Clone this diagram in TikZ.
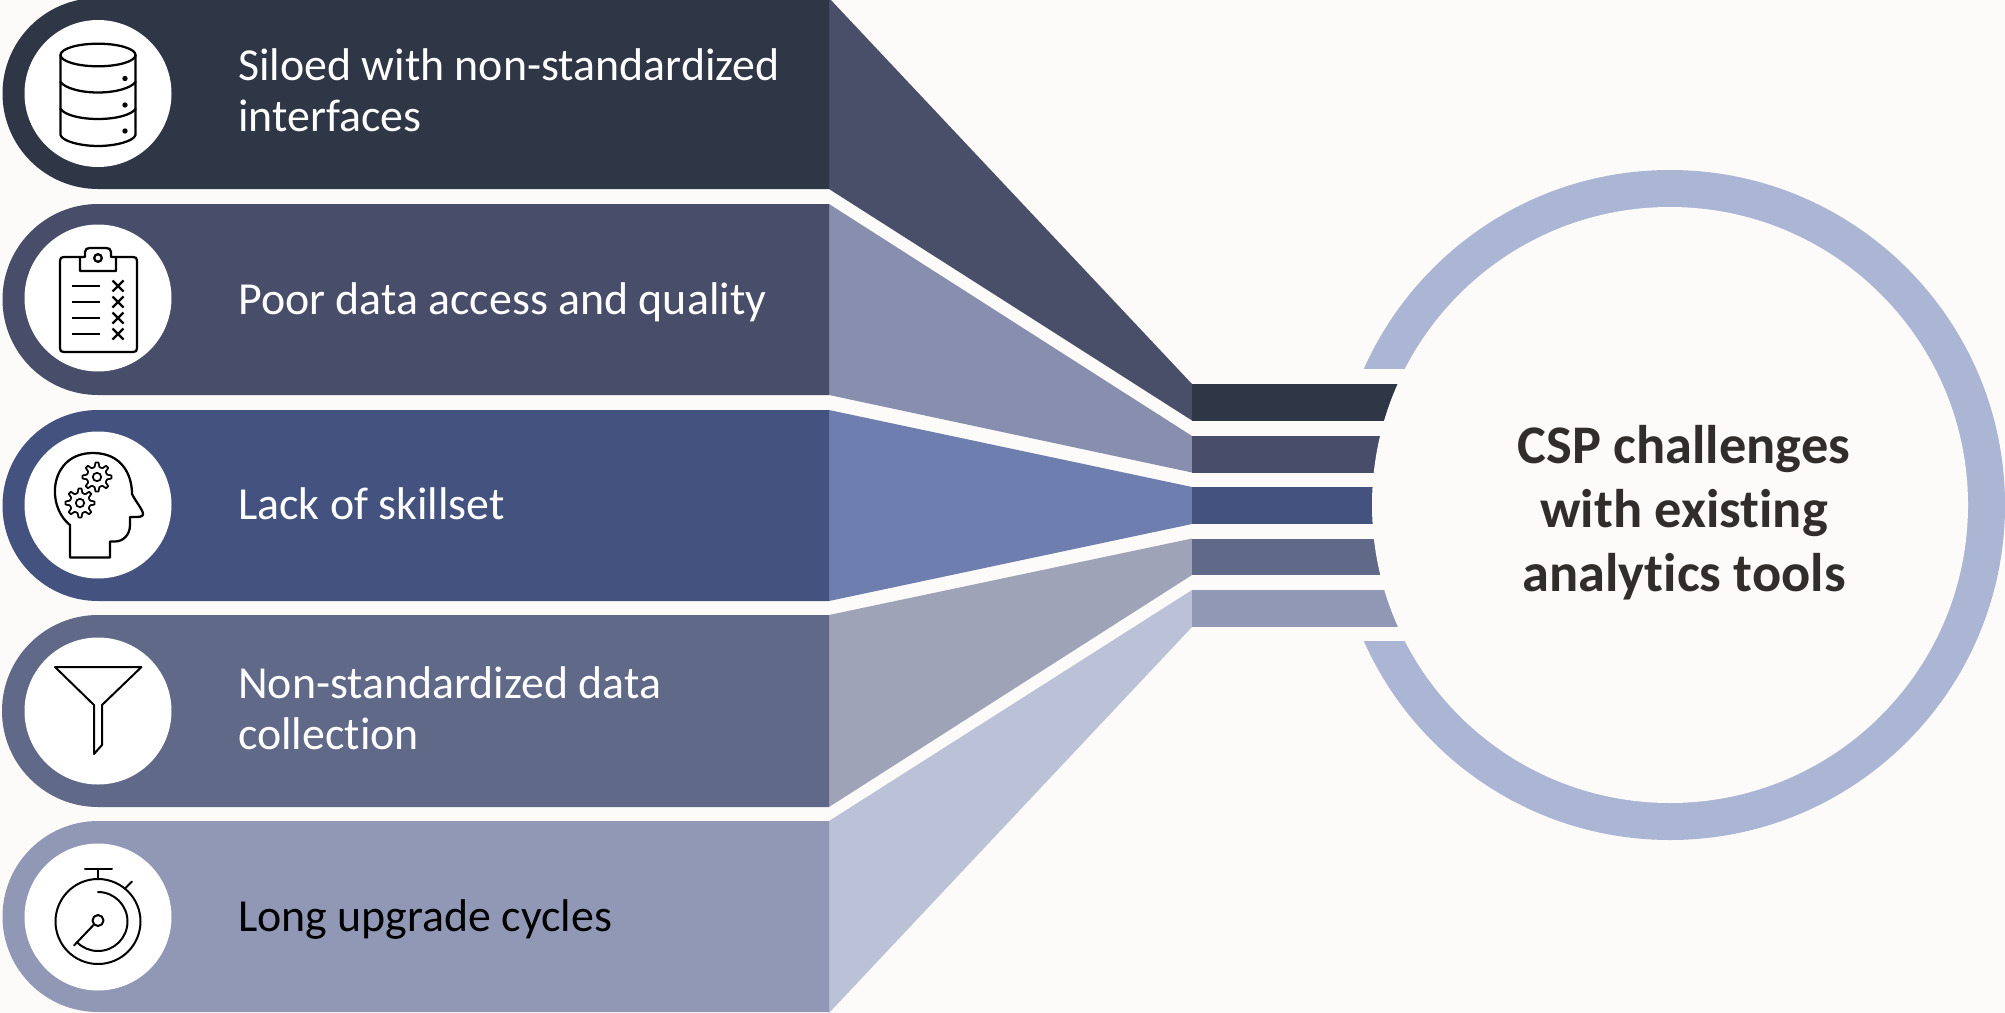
\documentclass[tikz,border=0pt]{standalone}
\usepackage{fontspec}
\setmainfont[Ligatures=NoCommon]{Carlito}
\definecolor{bgc}{HTML}{FCFBF9}
\definecolor{rowa}{HTML}{2F3645}
\definecolor{rowb}{HTML}{484D69}
\definecolor{rowc}{HTML}{44527F}
\definecolor{rowd}{HTML}{606987}
\definecolor{rowe}{HTML}{9098B6}
\definecolor{trapa}{HTML}{4A4F69}
\definecolor{trapb}{HTML}{888EAE}
\definecolor{trapc}{HTML}{6E7EAF}
\definecolor{trapd}{HTML}{9EA3B8}
\definecolor{trape}{HTML}{BBC1D7}
\definecolor{ringc}{HTML}{ABB5D4}
\definecolor{titlec}{HTML}{302D2B}
\tikzset{
  rowlabel/.style={anchor=west,align=left,font=\fontsize{34.4}{38.5}\selectfont,text=white,inner sep=0pt},
  icon/.style={draw=black,line width=1.7pt,line join=round,line cap=round,fill=none},
  iconthin/.style={draw=black,line width=1.5pt,line join=round,line cap=round,fill=none},
  disc/.style={fill=white,draw=none},
  gearicon/.pic={
    \draw[icon,line width=1.3pt] (0,0) circle (4.2);
    \draw[icon,line width=1.3pt] (-13:10.5)
      \foreach \a in {0,45,...,315}{
        -- ({\a-6}:14.5) -- ({\a+6}:14.5) -- ({\a+13}:10.5) -- ({\a+22.5}:10) -- ({\a+32}:10.5)
      } -- cycle;
  }
}
\begin{document}
\begin{tikzpicture}[x=0.75pt,y=-0.75pt]
\useasboundingbox (0,0) rectangle (2005,1013);
\fill[bgc] (0,0) rectangle (2005,1013);
\begin{scope}
\clip (0,0) rectangle (2005,1013);
% ring
\fill[ringc,even odd rule] (1670,505) circle[radius=335] (1670,505) circle[radius=297];
\fill[bgc] (1300,369) rectangle (1500,641);
% trapezoids
\fill[trapa] (829,-2) -- (1192,384) -- (1192,420.5) -- (829,189) -- cycle;
\fill[trapb] (829,204) -- (1192,436) -- (1192,472.5) -- (829,395) -- cycle;
\fill[trapc] (829,410) -- (1192,487) -- (1192,524) -- (829,601) -- cycle;
\fill[trapd] (829,615) -- (1192,538.5) -- (1192,575) -- (829,807) -- cycle;
\fill[trape] (829,821) -- (1192,590) -- (1192,627) -- (829,1013) -- cycle;
% collector bars
\fill[rowa] (1192,384) rectangle (1450,420.5);
\fill[rowb] (1192,436) rectangle (1450,472.5);
\fill[rowc] (1192,487) rectangle (1450,524);
\fill[rowd] (1192,538.5) rectangle (1450,575);
\fill[rowe] (1192,590) rectangle (1450,627);
\fill[bgc] (1670,505) circle[radius=298];
% rows
\fill[rowa] (829,-2) -- (98,-2) arc[start angle=270,end angle=90,radius=95.5] -- (829,189) -- cycle;
\fill[rowb] (829,204) -- (98,204) arc[start angle=270,end angle=90,radius=95.5] -- (829,395) -- cycle;
\fill[rowc] (829,410) -- (98,410) arc[start angle=270,end angle=90,radius=95.5] -- (829,601) -- cycle;
\fill[rowd] (829,615) -- (98,615) arc[start angle=270,end angle=90,radius=96] -- (829,807) -- cycle;
\fill[rowe] (829,821) -- (98,821) arc[start angle=270,end angle=90,radius=95.5] -- (829,1012) -- cycle;
\end{scope}
% discs
\fill[disc] (98,93.5) circle[radius=73.5];
\fill[disc] (98,298) circle[radius=73.5];
\fill[disc] (98,505) circle[radius=73.5];
\fill[disc] (98,711) circle[radius=73.5];
\fill[disc] (98,917) circle[radius=73.5];
% database icon
\draw[icon] (98,55) ellipse[x radius=37.5,y radius=11.3];
\draw[icon] (60.5,55) -- (60.5,135) .. controls (62,141) and (80,146) .. (98,146) .. controls (116,146) and (134,141) .. (135.5,135) -- (135.5,55);
\draw[icon] (60.5,82) .. controls (65,88) and (80,92.5) .. (98,92.5) .. controls (116,92.5) and (131,88) .. (135.5,82);
\draw[icon] (60.5,109) .. controls (65,115) and (80,119) .. (98,119) .. controls (116,119) and (131,115) .. (135.5,109);
\fill[black] (125,78.5) circle[radius=2.7] (125,105) circle[radius=2.7] (125,131) circle[radius=2.7];
% clipboard icon
\draw[icon] (80,257) -- (64,257) .. controls (61,257) and (60,258) .. (60,261) -- (60,348) .. controls (60,351) and (61,352) .. (64,352) -- (133,352) .. controls (136,352) and (137,351) .. (137,348) -- (137,261) .. controls (137,258) and (136,257) .. (133,257) -- (116,257);
\draw[icon] (80,257) -- (80,271) -- (116,271) -- (116,257) -- (111,257) -- (111,252) .. controls (111,249) and (109,248) .. (106,248) -- (90,248) .. controls (87,248) and (85,249) .. (85,252) -- (85,257) -- cycle;
\draw[icon] (98,258) circle[radius=3.8];
\foreach \yy in {286,302,318,334}{
  \draw[icon,line cap=butt] (72,\yy) -- (100,\yy);
  \draw[icon,line cap=butt] (112.5,\yy-5.5) -- (123.5,\yy+5.5) (123.5,\yy-5.5) -- (112.5,\yy+5.5);
}
% head icon
\draw[icon] (70,557.5) -- (70,525) .. controls (45,505) and (50,453) .. (93,453) .. controls (122,453) and (132,475) .. (132,494) .. controls (136,502) and (143,510) .. (143,514) .. controls (143,517) and (140,517) .. (130,517) -- (130,525) .. controls (130,535) and (123,541.5) .. (115,541.5) -- (110,541.5) -- (110,557.5) -- cycle;
\pic at (97,477) {gearicon};
\pic at (80,503) {gearicon};
% funnel icon
\draw[iconthin] (55,667) -- (141.5,667) -- (102,705) -- (102,745) -- (94,754) -- (94,705) -- cycle;
% stopwatch icon
\draw[iconthin] (98,921.5) circle[radius=42.5];
\draw[iconthin] (85,868.5) -- (112,868.5) (98,868.5) -- (98,879);
\draw[iconthin] (125,888.5) -- (132,881.5);
\draw[iconthin] (98,892) arc[start angle=-90,end angle=135,radius=29.5];
\draw[iconthin] (98,920.5) circle[radius=5.5];
\draw[iconthin] (94,924.5) -- (74,945.5);
% labels
\node[rowlabel] (la) at (238,90.5) {Siloed with non-standardized\\interfaces};
\node[rowlabel] (lb) at (238,302) {Poor data access and quality};
\node[rowlabel] (lc) at (238,504) {Lack of skillset};
\node[rowlabel] (ld) at (238,708) {Non-standardized data\\collection};
\node[rowlabel,text=black] (le) at (238,919.5) {Long upgrade cycles};
\node[align=center,inner sep=0pt,text=titlec,font=\fontsize{40.8}{48}\selectfont\bfseries] (title) at (1684,512.5) {CSP challenges\\with existing\\analytics tools};
\end{tikzpicture}
\end{document}
